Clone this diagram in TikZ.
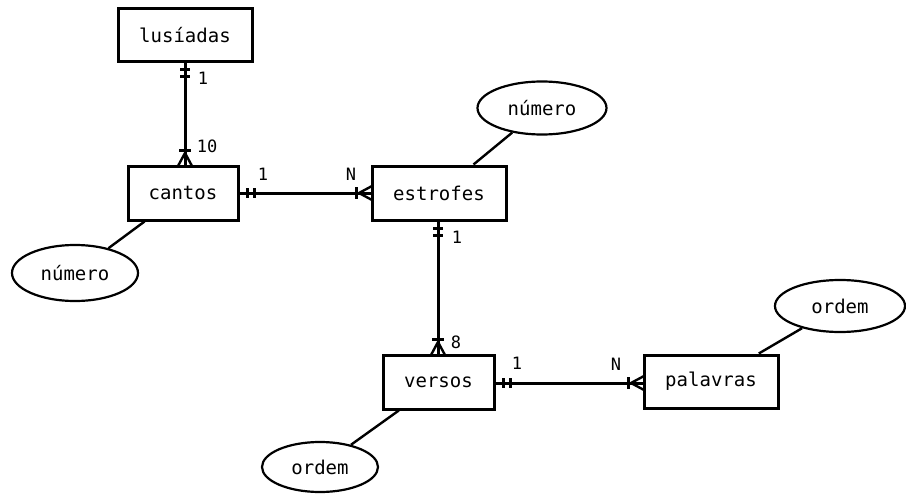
\documentclass[tikz,border=0pt]{standalone}
\usepackage{fontspec}
\newfontfamily\monofam{DejaVu Sans Mono}
\usetikzlibrary{shapes.geometric,calc}
\begin{document}
\begin{tikzpicture}[x=1pt,y=-1pt,
  entity/.style={draw,line width=3pt,rectangle,inner sep=0pt,font=\monofam\fontsize{19}{19}\selectfont},
  attr/.style={draw,line width=2.2pt,ellipse,inner sep=0pt,font=\monofam\fontsize{19}{19}\selectfont},
  conn/.style={line width=3pt},
  link/.style={line width=2.4pt},
  card/.style={font=\monofam\fontsize{17}{17}\selectfont,inner sep=0pt}]
\useasboundingbox (0,0) rectangle (906,495);
% entities
\node[entity,minimum width=134pt,minimum height=53pt] (lus) at (185,35.5) {lusíadas};
\node[entity,minimum width=110pt,minimum height=54pt] (cantos) at (183,193) {cantos};
\node[entity,minimum width=134pt,minimum height=54pt] (estrofes) at (439,193) {estrofes};
\node[entity,minimum width=111pt,minimum height=54pt] (versos) at (438.5,382) {versos};
\node[entity,minimum width=134pt,minimum height=53pt] (palavras) at (711,381.5) {palavras};
% attributes
\node[attr,minimum width=126pt,minimum height=56pt] (n1) at (75,273) {número};
\node[attr,minimum width=129pt,minimum height=53pt] (n2) at (542,108) {número};
\node[attr,minimum width=130pt,minimum height=52pt] (o1) at (840,306) {ordem};
\node[attr,minimum width=116pt,minimum height=50pt] (o2) at (320,467) {ordem};
% attribute links
\draw[link] (cantos) -- (n1);
\draw[link] (estrofes) -- (n2);
\draw[link] (palavras) -- (o1);
\draw[link] (versos) -- (o2);
% lusiadas - cantos
\coordinate (a1) at (185,62);
\coordinate (a2) at (185,166);
\draw[conn] (a1) -- (a2);
\draw[conn] ($(a1)+(-5,8)$) -- ++(10,0);
\draw[conn] ($(a1)+(-5,15)$) -- ++(10,0);
\draw[conn] ($(a2)+(-6,-16)$) -- ++(12,0);
\draw[link] ($(a2)+(-7,0)$) -- ($(a2)+(0,-13)$) -- ($(a2)+(7,0)$);
\node[card] (l1) at (203,78) {1};
\node[card] (l2) at (207,146) {10};
% cantos - estrofes
\coordinate (b1) at (238,193);
\coordinate (b2) at (372,193);
\draw[conn] (b1) -- (b2);
\draw[conn] ($(b1)+(9,-5)$) -- ++(0,10);
\draw[conn] ($(b1)+(16,-5)$) -- ++(0,10);
\draw[conn] ($(b2)+(-16,-6)$) -- ++(0,12);
\draw[link] ($(b2)+(0,-7)$) -- ($(b2)+(-13,0)$) -- ($(b2)+(0,7)$);
\node[card] (l3) at (263,174) {1};
\node[card] (l4) at (351,174) {N};
% estrofes - versos
\coordinate (c1) at (438,220);
\coordinate (c2) at (438,355);
\draw[conn] (c1) -- (c2);
\draw[conn] ($(c1)+(-5,8)$) -- ++(10,0);
\draw[conn] ($(c1)+(-5,15)$) -- ++(10,0);
\draw[conn] ($(c2)+(-6,-16)$) -- ++(12,0);
\draw[link] ($(c2)+(-7,0)$) -- ($(c2)+(0,-13)$) -- ($(c2)+(7,0)$);
\node[card] (l5) at (457,237) {1};
\node[card] (l6) at (456,342) {8};
% versos - palavras
\coordinate (d1) at (494,383);
\coordinate (d2) at (644,383);
\draw[conn] (d1) -- (d2);
\draw[conn] ($(d1)+(9,-5)$) -- ++(0,10);
\draw[conn] ($(d1)+(16,-5)$) -- ++(0,10);
\draw[conn] ($(d2)+(-16,-6)$) -- ++(0,12);
\draw[link] ($(d2)+(0,-7)$) -- ($(d2)+(-13,0)$) -- ($(d2)+(0,7)$);
\node[card] (l7) at (517,363) {1};
\node[card] (l8) at (616,364) {N};
\end{tikzpicture}
\end{document}
